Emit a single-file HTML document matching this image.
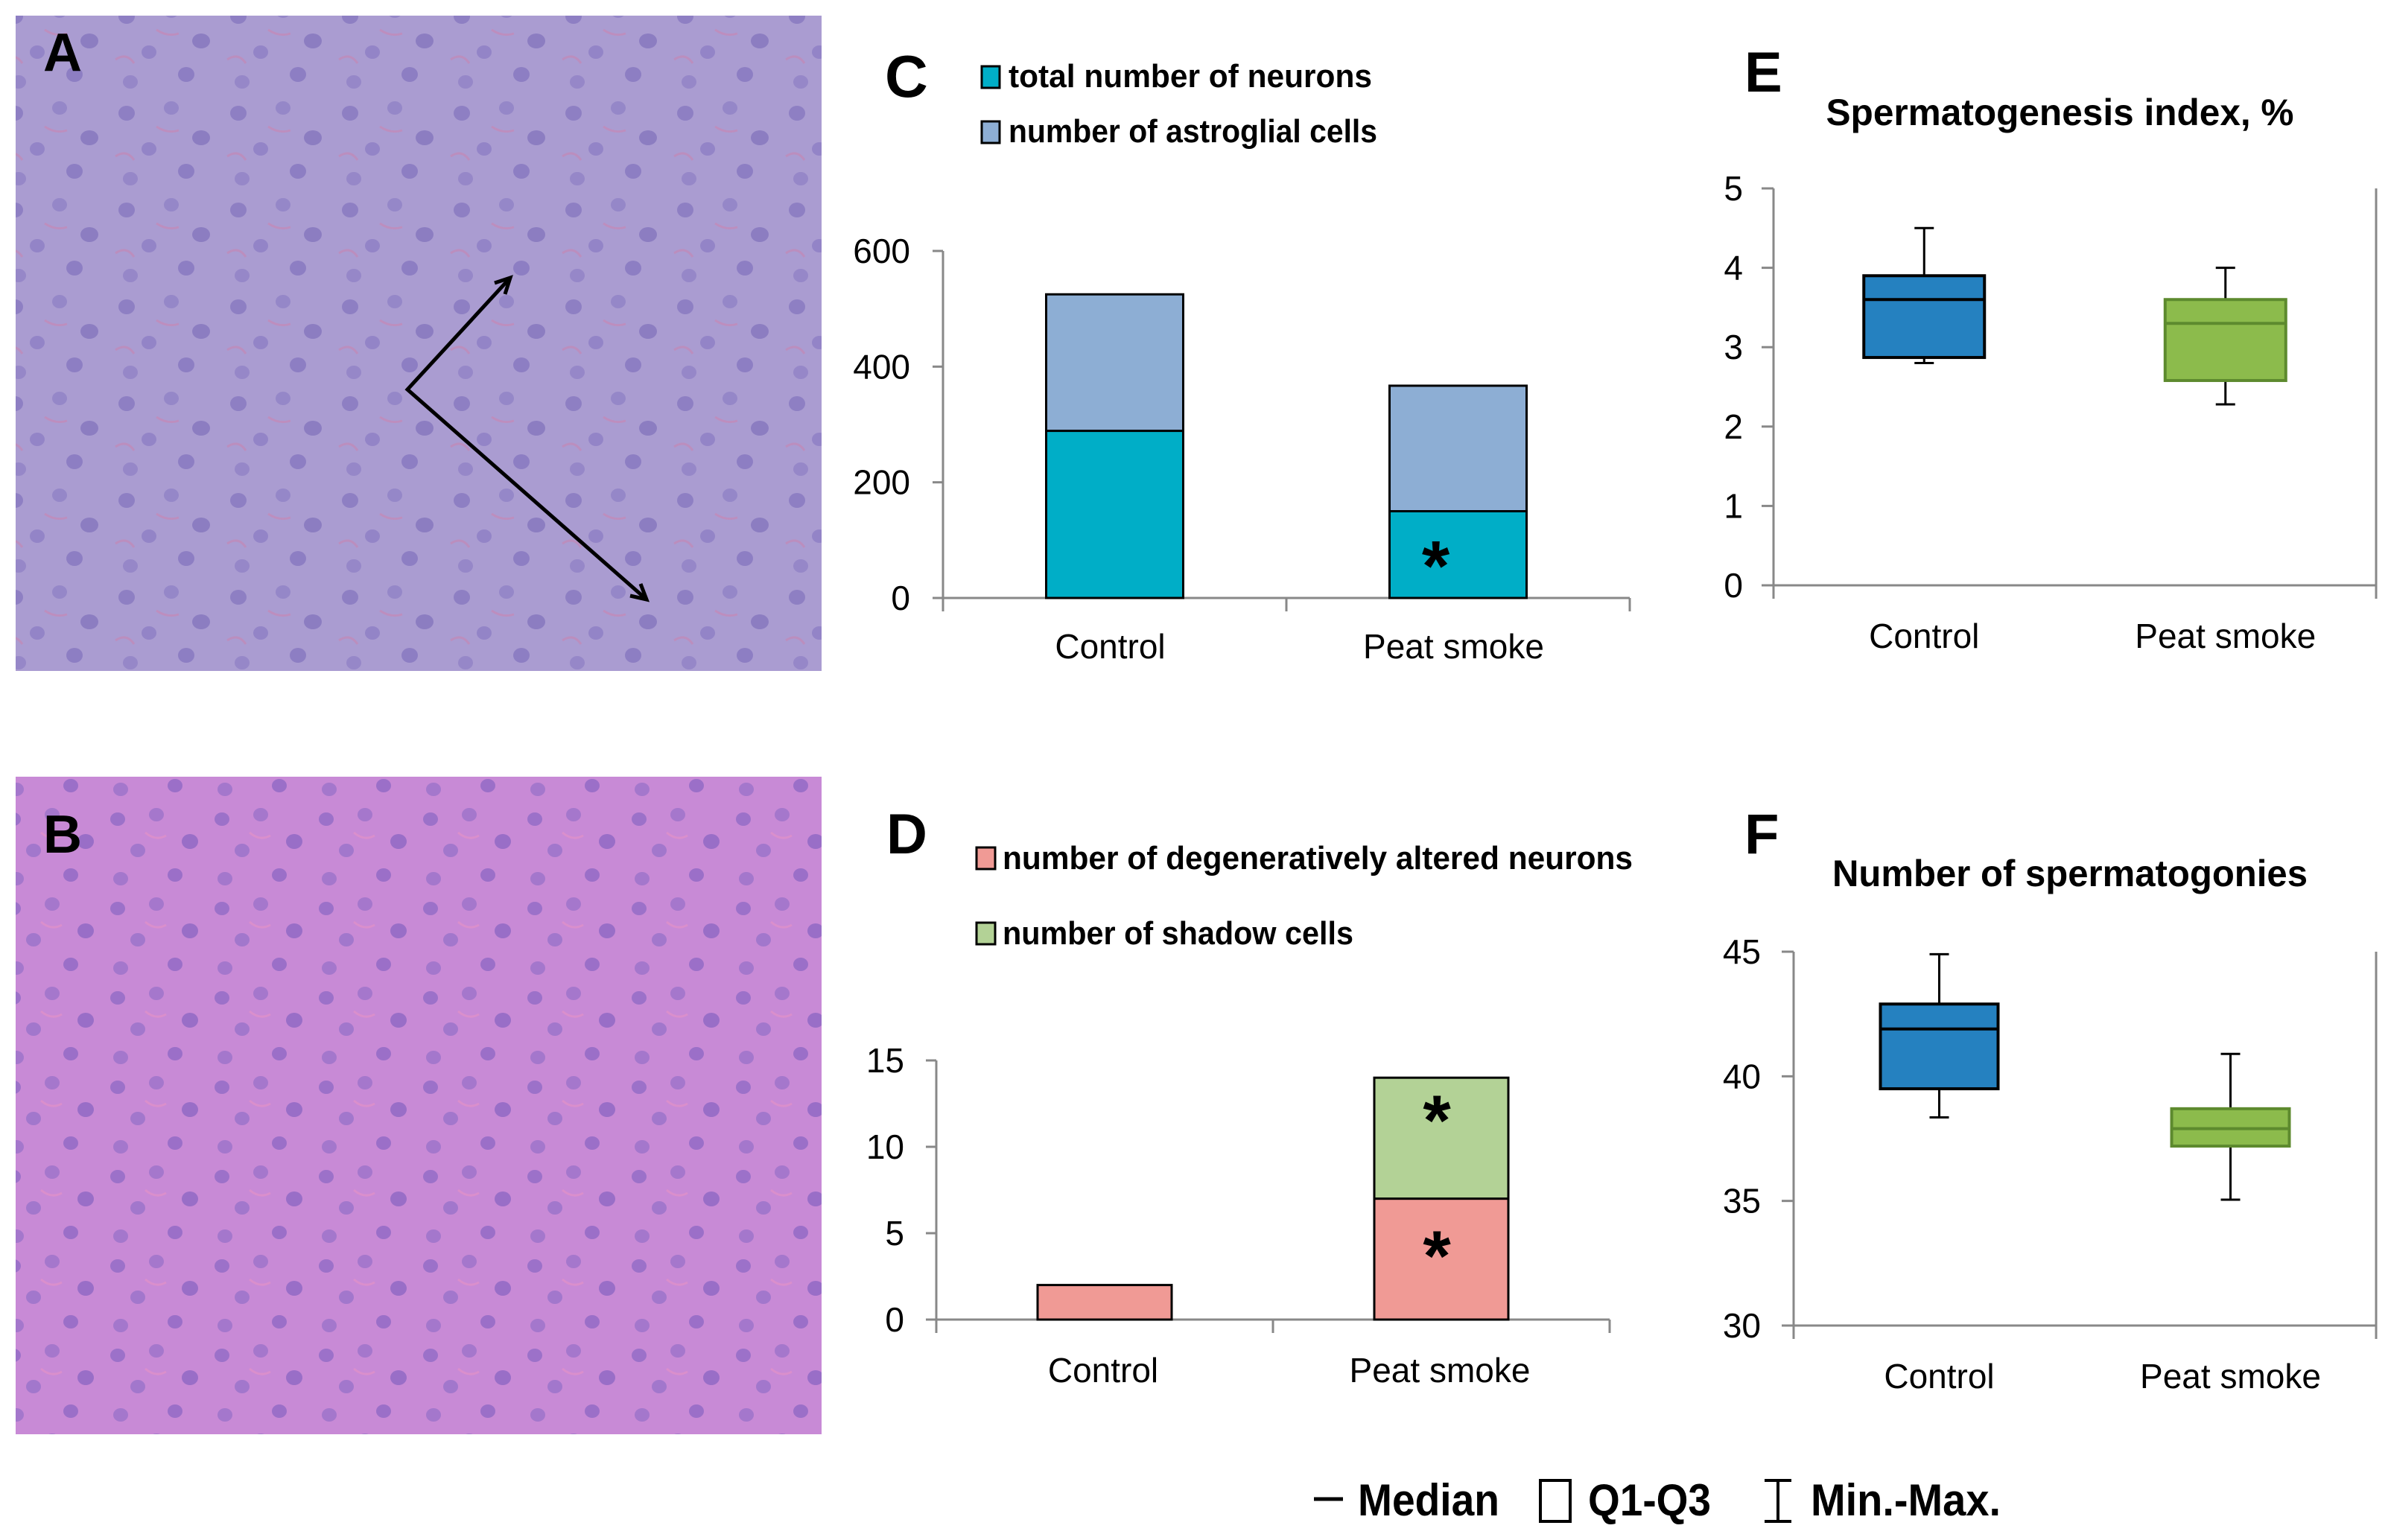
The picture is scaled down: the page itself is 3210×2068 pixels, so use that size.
<!DOCTYPE html>
<html><head><meta charset="utf-8">
<style>
html,body{margin:0;padding:0;background:#fff;}
svg{display:block;font-family:"Liberation Sans",sans-serif;}
</style></head>
<body>
<svg id="fig" width="3210" height="2068" viewBox="0 0 3210 2068" xmlns="http://www.w3.org/2000/svg">
<defs>
<pattern id="cellsA" width="150" height="130" patternUnits="userSpaceOnUse">
<rect width="150" height="130" fill="#ab9dd2"/>
<ellipse cx="20" cy="22" rx="11" ry="10" fill="#8676bf"/>
<ellipse cx="80" cy="15" rx="10" ry="9" fill="#8f80c6"/>
<ellipse cx="120" cy="55" rx="12" ry="10" fill="#8373bd"/>
<ellipse cx="50" cy="70" rx="10" ry="9" fill="#8d7dc4"/>
<ellipse cx="100" cy="100" rx="11" ry="10" fill="#8575bf"/>
<ellipse cx="25" cy="110" rx="10" ry="9" fill="#9080c6"/>
<path d="M60 40 q15 10 30 5" stroke="#c58ab8" stroke-width="3" fill="none"/>
<path d="M5 80 q15 -10 25 5" stroke="#c28ab9" stroke-width="3" fill="none"/>
</pattern>
<pattern id="cellsB" width="140" height="120" patternUnits="userSpaceOnUse">
<rect width="140" height="120" fill="#c88ad6"/>
<ellipse cx="18" cy="20" rx="10" ry="9" fill="#8e68c4"/>
<ellipse cx="70" cy="14" rx="10" ry="9" fill="#9a70c8"/>
<ellipse cx="115" cy="50" rx="11" ry="10" fill="#8a64c2"/>
<ellipse cx="45" cy="62" rx="10" ry="9" fill="#9670c8"/>
<ellipse cx="95" cy="95" rx="10" ry="9" fill="#8c66c3"/>
<ellipse cx="22" cy="100" rx="10" ry="9" fill="#9870c8"/>
<path d="M55 38 q14 12 28 4" stroke="#e090c8" stroke-width="3" fill="none"/>
</pattern>
</defs>

<!-- Photo A -->
<g>
<rect x="21" y="21" width="1082" height="880" fill="url(#cellsA)"/>
<rect x="21" y="21" width="1082" height="880" fill="#a89ad0" opacity="0.25"/>
<text x="58" y="95" font-size="72" font-weight="bold" fill="#000">A</text>
<g stroke="#000" stroke-width="5" fill="none">
<polyline points="685,373 547,523 868,805"/>
<polyline points="664,380 685,373 678,395"/>
<polyline points="846,800 868,805 860,784"/>
</g>
</g>
<!-- Photo B -->
<g>
<rect x="21" y="1043" width="1082" height="883" fill="url(#cellsB)"/>
<rect x="21" y="1043" width="1082" height="883" fill="#c98bd6" opacity="0.25"/>
<text x="58" y="1145" font-size="72" font-weight="bold" fill="#000">B</text>
</g>

<g id="charts"></g>
</svg>

<script>
// ---- data ----
const categories = ["Control", "Peat smoke"];
const cNeurons = [289, 150];
const cAstro = [236, 217];
const cTicks = [0, 200, 400, 600];
const dDegen = [2, 7];
const dShadow = [0, 7];
const dTicks = [0, 5, 10, 15];
const eMin = [2.8, 2.28];
const eQ1 = [2.87, 2.58];
const eMed = [3.6, 3.3];
const eQ3 = [3.9, 3.6];
const eMax = [4.5, 4.0];
const eTicks = [0, 1, 2, 3, 4, 5];
const fMin = [38.35, 35.05];
const fQ1 = [39.5, 37.2];
const fMed = [41.9, 37.9];
const fQ3 = [42.9, 38.7];
const fMax = [44.9, 40.9];
const fTicks = [30, 35, 40, 45];

const NS = "http://www.w3.org/2000/svg";
const root = document.getElementById("charts");
function mk(tag, attrs, parent) {
  const e = document.createElementNS(NS, tag);
  for (const k in attrs) e.setAttribute(k, attrs[k]);
  (parent || root).appendChild(e);
  return e;
}
function txt(s, x, y, size, opts, parent) {
  const t = mk("text", Object.assign({x: x, y: y, "font-size": size, fill: "#000"}, opts || {}), parent);
  t.textContent = s;
  return t;
}

// ---------- Chart C ----------
const cX0 = 1266, cX1 = 2188, cYt = 337, cYb = 803, cMax = 600;
const yC = v => cYb - v / cMax * (cYb - cYt);
const xC = i => cX0 + (cX1 - cX0) * (i + 0.5) / categories.length;
const gC = mk("g", {});


let pl = txt("C", 1188, 130, 80, {"font-weight": "bold"}, gC);


const cLeg = [["total number of neurons", "#00aec7", 103, 488], ["number of astroglial cells", "#8daed4", 177, 495]];
cLeg.forEach(l => {
  const g = mk("g", {}, gC);
  
  
  mk("rect", {x: 1318, y: l[2] - 14, width: 24, height: 29, fill: l[1], stroke: "#000", "stroke-width": 3}, g);
  txt(l[0], 1354, l[2] + 14, 44, {"font-weight": "bold", textLength: l[3], lengthAdjust: "spacingAndGlyphs"}, g);
});
mk("line", {x1: cX0, y1: cYt, x2: cX0, y2: cYb + 14, stroke: "#888", "stroke-width": 3}, gC);
mk("line", {x1: cX0, y1: cYb, x2: cX1, y2: cYb, stroke: "#888", "stroke-width": 3}, gC);
[cX0, (cX0 + cX1) / 2, cX1].forEach(x => mk("line", {x1: x, y1: cYb, x2: x, y2: cYb + 18, stroke: "#888", "stroke-width": 3}, gC));
cTicks.forEach(v => {
  mk("line", {x1: cX0 - 14, y1: yC(v), x2: cX0, y2: yC(v), stroke: "#888", "stroke-width": 3}, gC);
  const t = txt(String(v), 1222, yC(v) + 16, 46, {"text-anchor": "end"}, gC);
  
  
});
categories.forEach((c, i) => {
  const x = xC(i) - 92;
  const b1 = mk("rect", {x: x, y: yC(cNeurons[i]), width: 184, height: yC(0) - yC(cNeurons[i]), fill: "#00aec7", stroke: "#000", "stroke-width": 3}, gC);
  
  
  const top = cNeurons[i] + cAstro[i];
  const b2 = mk("rect", {x: x, y: yC(top), width: 184, height: yC(cNeurons[i]) - yC(top), fill: "#8daed4", stroke: "#000", "stroke-width": 3}, gC);
  
  
  const t = txt(c, xC(i) - 6, 884, 46, {"text-anchor": "middle"}, gC);
  
  
});
txt("*", xC(1) - 30, yC(cNeurons[1] / 2) + 48, 96, {"text-anchor": "middle", "font-weight": "bold"}, gC);

// ---------- Chart D ----------
const dX0 = 1257, dX1 = 2161, dYt = 1424, dYb = 1772, dMax = 15;
const yD = v => dYb - v / dMax * (dYb - dYt);
const xD = i => dX0 + (dX1 - dX0) * (i + 0.5) / categories.length;
const gD = mk("g", {});


pl = txt("D", 1190, 1146, 76, {"font-weight": "bold"}, gD);


const dLeg = [["number of degeneratively altered neurons", "#f09a95", 1153, 846], ["number of shadow cells", "#b3d296", 1254, 471]];
dLeg.forEach(l => {
  const g = mk("g", {}, gD);
  
  
  mk("rect", {x: 1311, y: l[2] - 15, width: 25, height: 29, fill: l[1], stroke: "#000", "stroke-width": 3}, g);
  txt(l[0], 1346, l[2] + 14, 44, {"font-weight": "bold", textLength: l[3], lengthAdjust: "spacingAndGlyphs"}, g);
});
mk("line", {x1: dX0, y1: dYt, x2: dX0, y2: dYb + 14, stroke: "#888", "stroke-width": 3}, gD);
mk("line", {x1: dX0, y1: dYb, x2: dX1, y2: dYb, stroke: "#888", "stroke-width": 3}, gD);
[dX0, (dX0 + dX1) / 2, dX1].forEach(x => mk("line", {x1: x, y1: dYb, x2: x, y2: dYb + 18, stroke: "#888", "stroke-width": 3}, gD));
dTicks.forEach(v => {
  mk("line", {x1: dX0 - 14, y1: yD(v), x2: dX0, y2: yD(v), stroke: "#888", "stroke-width": 3}, gD);
  const t = txt(String(v), 1214, yD(v) + 16, 46, {"text-anchor": "end"}, gD);
  
  
});
categories.forEach((c, i) => {
  const x = xD(i) - 90;
  const b1 = mk("rect", {x: x, y: yD(dDegen[i]), width: 180, height: yD(0) - yD(dDegen[i]), fill: "#f09a95", stroke: "#000", "stroke-width": 3}, gD);
  
  
  if (dShadow[i] > 0) {
    const top = dDegen[i] + dShadow[i];
    const b2 = mk("rect", {x: x, y: yD(top), width: 180, height: yD(dDegen[i]) - yD(top), fill: "#b3d296", stroke: "#000", "stroke-width": 3}, gD);
    
    
  }
  const t = txt(c, xD(i) - 2, 1856, 46, {"text-anchor": "middle"}, gD);
  
  
});
txt("*", xD(1) - 6, yD(dDegen[1] * 0.62) + 48, 96, {"text-anchor": "middle", "font-weight": "bold"}, gD);
txt("*", xD(1) - 6, yD(dDegen[1] + dShadow[1] * 0.74) + 48, 96, {"text-anchor": "middle", "font-weight": "bold"}, gD);

// ---------- Box plots ----------
function boxChart(name, label, labelY, title, titleY, titleLen, X0, X1, Yt, Yb, lo, hi, ticks, mins, q1s, meds, q3s, maxs, boxW, catY, tickR) {
  const y = v => Yb - (v - lo) / (hi - lo) * (Yb - Yt);
  const x = i => X0 + (X1 - X0) * (i + 0.5) / categories.length;
  const g = mk("g", {});
  
  
  const p = txt(label, 2342, labelY, 76, {"font-weight": "bold"}, g);
  
  
  const tt = txt(title, (X0 + X1) / 2 - 20, titleY, 50, {"text-anchor": "middle", "font-weight": "bold", textLength: titleLen, lengthAdjust: "spacingAndGlyphs"}, g);
  
  
  mk("line", {x1: X0, y1: Yt, x2: X0, y2: Yb + 18, stroke: "#888", "stroke-width": 3}, g);
  mk("line", {x1: X1, y1: Yt, x2: X1, y2: Yb + 18, stroke: "#888", "stroke-width": 3}, g);
  mk("line", {x1: X0, y1: Yb, x2: X1, y2: Yb, stroke: "#888", "stroke-width": 3}, g);
  ticks.forEach(v => {
    mk("line", {x1: X0 - 16, y1: y(v), x2: X0, y2: y(v), stroke: "#888", "stroke-width": 3}, g);
    const t = txt(String(v), tickR, y(v) + 16, 46, {"text-anchor": "end"}, g);
    
    
  });
  const fills = ["#2581c0", "#8cbb4c"], strokes = ["#000", "#5d8a2e"];
  categories.forEach((c, i) => {
    const cx = x(i);
    const w = mk("line", {x1: cx, y1: y(maxs[i]), x2: cx, y2: y(mins[i]), stroke: "#000", "stroke-width": 3}, g);
    
    
    mk("line", {x1: cx - 13, y1: y(maxs[i]), x2: cx + 13, y2: y(maxs[i]), stroke: "#000", "stroke-width": 3}, g);
    mk("line", {x1: cx - 13, y1: y(mins[i]), x2: cx + 13, y2: y(mins[i]), stroke: "#000", "stroke-width": 3}, g);
    const b = mk("rect", {x: cx - boxW / 2, y: y(q3s[i]), width: boxW, height: y(q1s[i]) - y(q3s[i]), fill: fills[i], stroke: strokes[i], "stroke-width": 4}, g);
    
    
    const m = mk("line", {x1: cx - boxW / 2, y1: y(meds[i]), x2: cx + boxW / 2, y2: y(meds[i]), stroke: strokes[i], "stroke-width": 4}, g);
    
    
    const t = txt(c, cx, catY, 46, {"text-anchor": "middle"}, g);
    
    
  });
}
boxChart("chart-e", "E", 123, "Spermatogenesis  index, %", 168, 628, 2381, 3190, 253, 786, 0, 5, eTicks, eMin, eQ1, eMed, eQ3, eMax, 162, 870, 2340);
boxChart("chart-f", "F", 1146, "Number of spermatogonies", 1190, 638, 2408, 3190, 1278, 1780, 30, 45, fTicks, fMin, fQ1, fMed, fQ3, fMax, 158, 1864, 2364);

// ---------- Bottom legend ----------
const gL = mk("g", {});


mk("line", {x1: 1764, y1: 2013, x2: 1803, y2: 2013, stroke: "#000", "stroke-width": 5}, gL);
txt("Median", 1823, 2035, 60, {"font-weight": "bold", textLength: 190, lengthAdjust: "spacingAndGlyphs"}, gL);
mk("rect", {x: 2068, y: 1988, width: 40, height: 55, fill: "#fff", stroke: "#000", "stroke-width": 4}, gL);
txt("Q1-Q3", 2132, 2035, 60, {"font-weight": "bold", textLength: 165, lengthAdjust: "spacingAndGlyphs"}, gL);
mk("line", {x1: 2387, y1: 1988, x2: 2387, y2: 2043, stroke: "#000", "stroke-width": 4}, gL);
mk("line", {x1: 2369, y1: 1988, x2: 2405, y2: 1988, stroke: "#000", "stroke-width": 4}, gL);
mk("line", {x1: 2369, y1: 2043, x2: 2405, y2: 2043, stroke: "#000", "stroke-width": 4}, gL);
txt("Min.-Max.", 2431, 2035, 60, {"font-weight": "bold", textLength: 255, lengthAdjust: "spacingAndGlyphs"}, gL);
</script>
</body></html>
